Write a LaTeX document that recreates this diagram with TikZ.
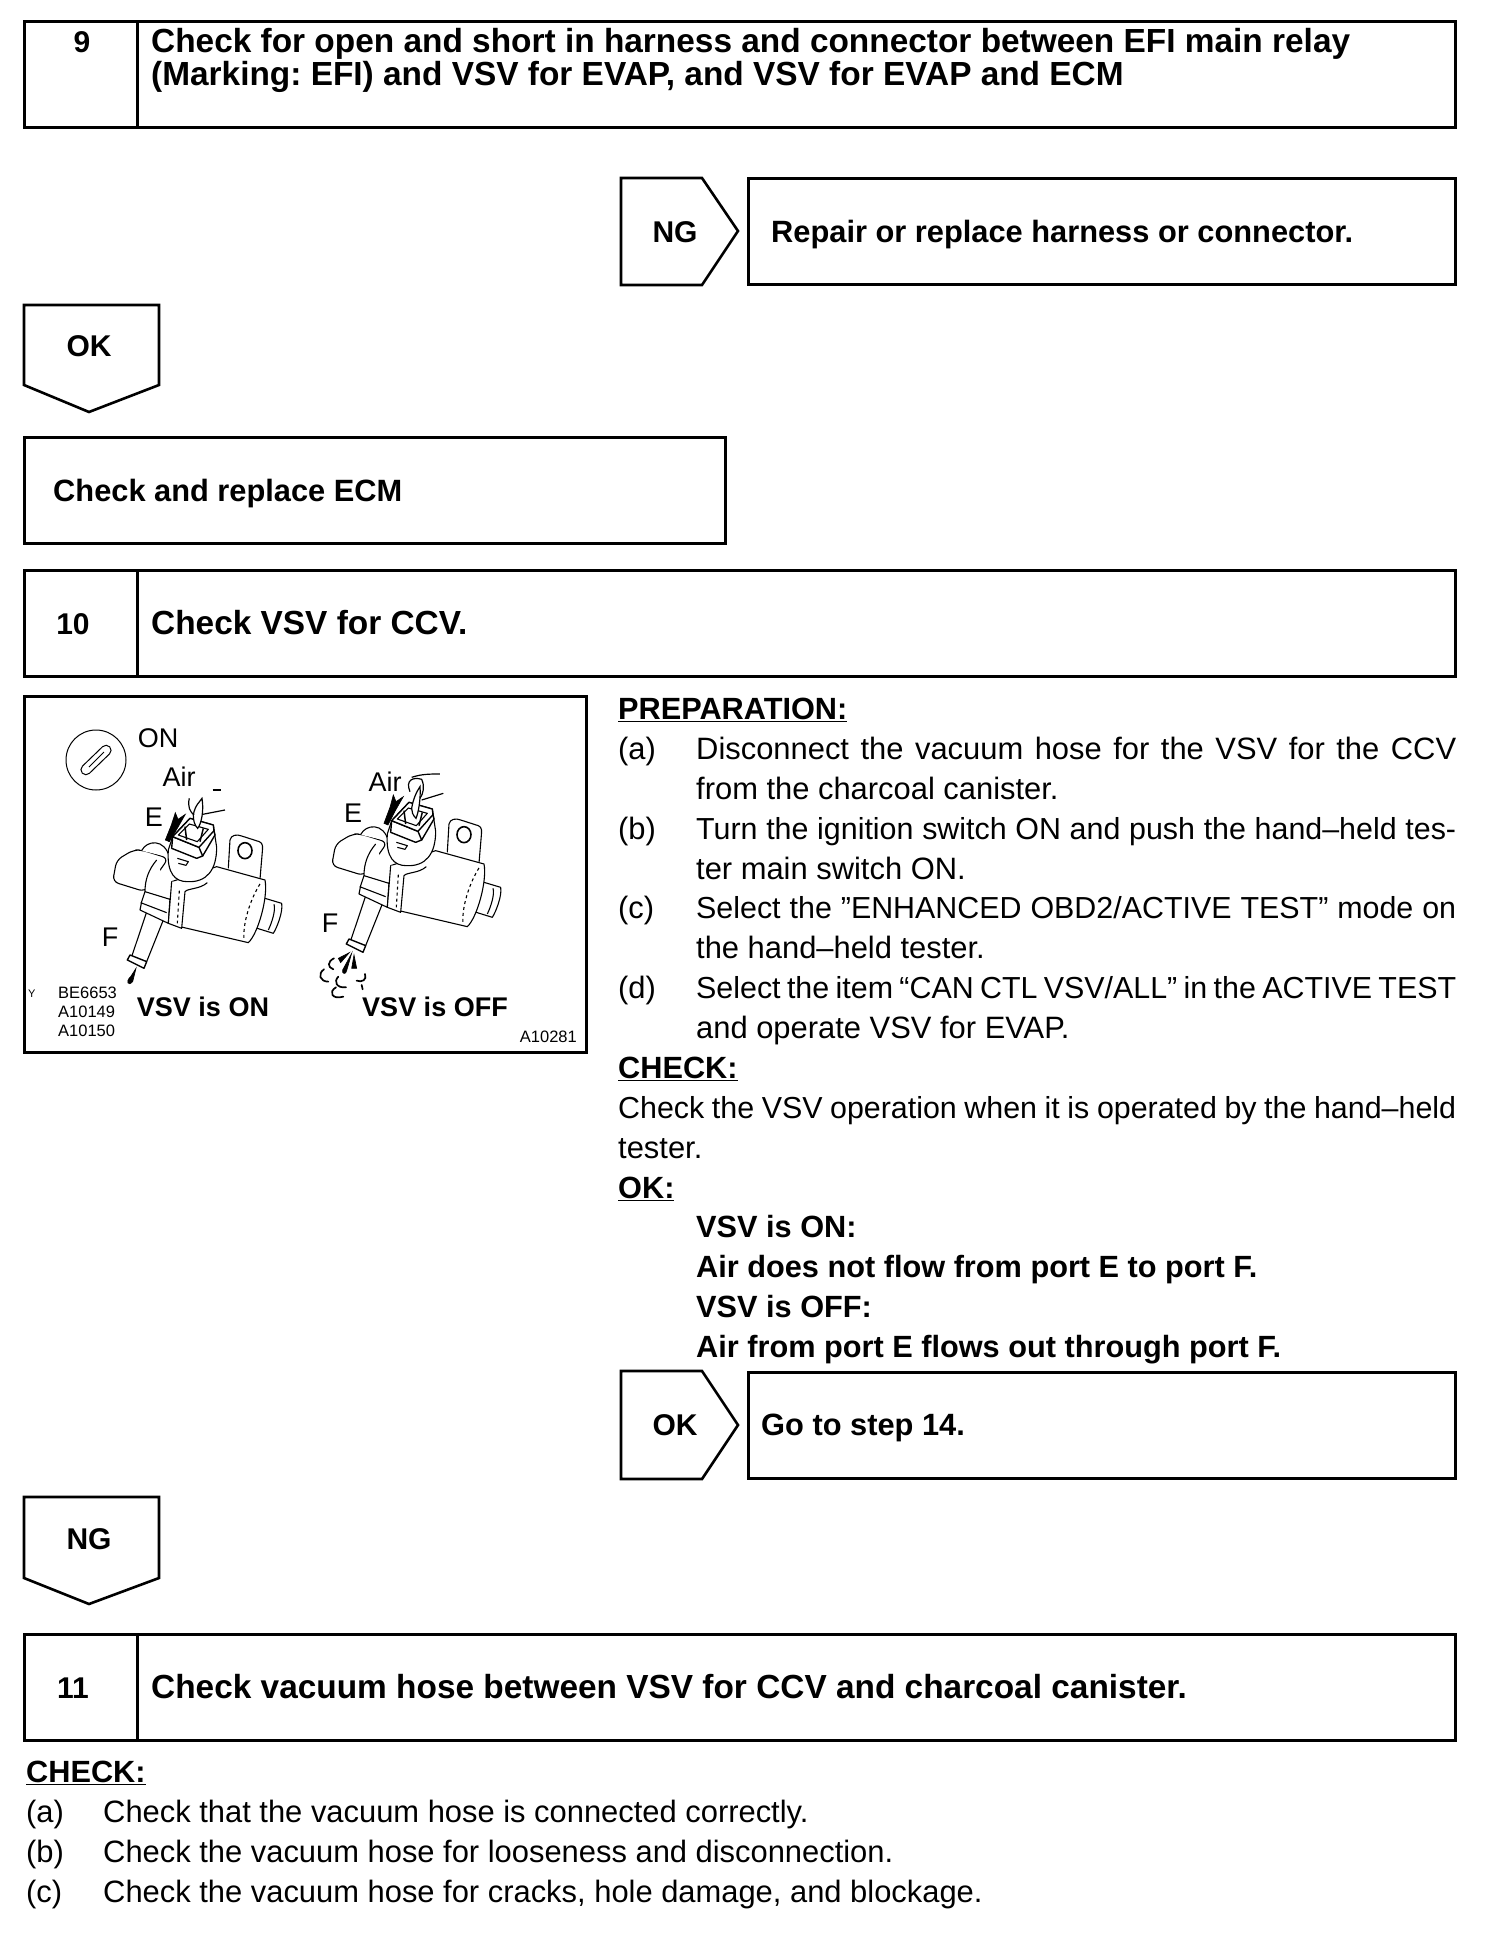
\documentclass[tikz,border=0pt]{standalone}
\usepackage{fontspec}
\setmainfont{Liberation Sans}
\usetikzlibrary{positioning}
\newcommand{\jline}[2]{\makebox[#1pt][s]{#2}}
\tikzset{
  vsvbody/.pic={
    \begin{scope}[x=0.3333pt,y=-0.3333pt,line width=1.1pt,line join=round]
      % bracket
      \draw[fill=white] (385,325) -- (390,240) .. controls (393,225) and (410,222) .. (425,228)
        -- (478,245) .. controls (490,250) and (488,262) .. (487,275) -- (480,358);
      \draw[line width=1.6pt] (435,272) ellipse (21 and 24);
      % stub and cylinder
      \draw[fill=white] (495,415) -- (545,430) .. controls (550,455) and (530,505) .. (520,520) -- (465,503);
      \draw[fill=white] (350,320) -- (495,360) .. controls (505,410) and (475,520) .. (445,548)
        -- (240,500) -- (215,365) -- cycle;
      \draw (522,433) .. controls (528,450) and (515,490) .. (505,510);
      \draw[dashed] (480,372) .. controls (450,420) and (428,490) .. (432,540);
      % left cap and collar
      \draw[fill=white,rounded corners=6pt] (125,270) -- (100,270) -- (50,300) -- (38,365) -- (135,395) -- (205,295) -- cycle;
      \draw[fill=white] (125,272) .. controls (140,240) and (195,235) .. (208,292);
      % tube and nozzle
      \draw[fill=white] (142,450) -- (95,590) -- (140,605) -- (192,475);
      \draw[fill=white,line width=1.4pt] (90,585) -- (140,605) -- (132,625) -- (82,600) -- cycle;
      % strap
      \draw[fill=white] (170,300) .. controls (145,330) and (135,360) .. (135,395) -- (125,425)
        -- (120,450) -- (205,490) -- (210,415);
      \draw (135,395) -- (210,418);
      \draw (122,428) -- (200,458);
      % band
      \draw[fill=white] (322,368) .. controls (300,388) and (262,385) .. (255,395)
        -- (245,505) -- (205,490) -- (215,365);
      \draw[dashed] (238,392) -- (232,490);
      % housing
      \draw[fill=white] (205,270) .. controls (200,340) and (225,365) .. (262,365)
        .. controls (320,368) and (350,330) .. (350,262) -- (340,195) -- (270,175) -- (218,230) -- cycle;
      \draw[fill=white,line width=1.4pt] (218,230) -- (215,265) -- (290,295) -- (308,288) -- (297,262) -- cycle;
      \draw[fill=white,line width=1.4pt] (218,230) -- (270,175) -- (340,195) -- (342,212) -- (297,262) -- cycle;
      \draw[line width=1.4pt] (308,288) -- (345,225) -- (342,212);
      \draw (232,295) -- (265,305) -- (258,316) -- (235,310);
      \draw (235,225) -- (268,192) -- (325,208) -- (292,245) -- cycle;
      \draw[line width=1.5pt] (255,200) -- (260,240) (310,205) -- (300,245);
    \end{scope}
  },
  keyslot/.pic={
    \draw[line width=1pt] (0,0) circle (30);
    \draw[line width=1pt,rounded corners=5pt,rotate=44] (-19,-5) rectangle (19,5);
    \draw[line width=.8pt] (-7,7) -- (8,-8);
  },
}
\begin{document}
\frenchspacing
\begin{tikzpicture}[
  x=1pt,y=-1pt,
  box/.style={draw, line width=3pt, inner sep=0pt},
  flag/.style={draw, line width=2.6pt, line join=miter},
  ttl/.style={anchor=base west, inner sep=0pt, yshift=1pt, font=\fontsize{33.4}{33}\selectfont\bfseries},
  sml/.style={ttl, font=\fontsize{30.8}{33}\selectfont\bfseries},
  tag/.style={anchor=base, inner sep=0pt, yshift=1pt, font=\fontsize{30}{33}\selectfont\bfseries},
  txt/.style={anchor=base west, inner sep=0pt, font=\fontsize{30.9}{33}\selectfont},
  tgt/.style={txt, font=\fontsize{30.4}{33}\selectfont},
  bld/.style={txt, font=\fontsize{30.7}{33}\selectfont\bfseries},
  pict/.style={anchor=center, inner sep=0pt, font=\fontsize{27}{30}\selectfont},
  vcap/.style={anchor=center, inner sep=0pt, font=\fontsize{27}{30}\selectfont\bfseries},
  code/.style={anchor=base west, inner sep=0pt, font=\fontsize{16.5}{18}\selectfont},
  drop/.style={fill=black, draw=black, line width=.6pt},
  puff/.style={line width=1.7pt, line cap=round},
]
\useasboundingbox (0,0) rectangle (1504,1938);

% ===== step 9 =====
\node[box,minimum width=113pt,minimum height=106pt] (no9) at (80.5,74) {};
\node[box,minimum width=1318pt,minimum height=106pt,right=-3pt of no9] (ti9) {};
\node[tag] (n9) at (82,53) {9};
\node[ttl] (t9a) at (151,53) {Check for open and short in harness and connector between EFI main relay};
\node[ttl] (t9b) at (151,86) {(Marking: EFI) and VSV for EVAP, and VSV for EVAP and ECM};

% NG branch
\draw[flag] (621,178) -- (702,178) -- (738,231) -- (702,285) -- (621,285) -- cycle;
\node[tag] (ng9) at (675,243) {NG};
\node[box,minimum width=707pt,minimum height=106pt] (rep9) at (1101.5,231.5) {};
\node[sml] (rept) at (771,243) {Repair or replace harness or connector.};

% OK branch
\draw[flag] (24,305) -- (159,305) -- (159,385) -- (89,412) -- (24,385) -- cycle;
\node[tag] (ok9) at (89,357) {OK};
\node[box,minimum width=701pt,minimum height=106pt] (ecm) at (374.5,490) {};
\node[sml] (ecmt) at (53,502) {Check and replace ECM};

% ===== step 10 =====
\node[box,minimum width=113pt,minimum height=106pt] (no10) at (80.5,623.5) {};
\node[box,minimum width=1318pt,minimum height=106pt,right=-3pt of no10] (ti10) {};
\node[tag] (n10) at (73,635) {10};
\node[ttl] (t10) at (151,635) {Check VSV for CCV.};

% ===== illustration =====
\node[box,minimum width=562pt,minimum height=356pt] (fig) at (305,874) {};
\pic at (96,760) {keyslot};
\node[pict] (on) at (158,738) {ON};
\node[pict] (air1) at (179,777) {Air};
\node[pict] (e1) at (154,817) {E};
\node[pict] (f1) at (110,937) {F};
\node[pict] (air2) at (385,782) {Air};
\node[pict] (e2) at (353,813) {E};
\node[pict] (f2) at (330,923) {F};

\pic at (100,760) {vsvbody};
\pic at (319,744) {vsvbody};

% left valve, hose and flow
\begin{scope}[shift={(100,760)},x=0.3333pt,y=-0.3333pt]
  \draw[fill=white,line width=1.2pt] (280,165) .. controls (285,135) and (300,125) .. (306,115)
    .. controls (312,150) and (305,190) .. (293,205) .. controls (283,195) and (280,180) .. (280,165) -- cycle;
  \draw[line width=1.2pt] (268,115) .. controls (262,140) and (270,155) .. (282,165);
  \draw[line width=1.2pt] (308,163) -- (375,150);
  \draw[line width=1.2pt] (338,90) -- (362,90);
  \draw[drop] (226,158) -- (234,178) -- (256,163) -- (232,205) -- (208,245) -- (196,240) -- (214,195) -- cycle;
  \draw[drop] (108,625) -- (92,650) .. controls (75,665) and (85,680) .. (98,665) -- cycle;
\end{scope}

% right valve, hose and flow
\begin{scope}[shift={(310,750)},x=0.3333pt,y=-0.3333pt]
  \draw[fill=white,line width=1.2pt] (305,175) .. controls (310,145) and (320,125) .. (330,110)
    .. controls (333,145) and (325,190) .. (318,205) .. controls (308,195) and (305,185) .. (305,175) -- cycle;
  \draw[line width=1.2pt] (300,125) .. controls (285,90) and (310,80) .. (335,88) .. controls (345,110) and (340,130) .. (330,145);
  \draw[line width=1.2pt] (305,82) .. controls (335,72) and (360,72) .. (390,72);
  \draw[line width=1.2pt] (335,150) -- (400,130);
  \draw[drop] (250,135) -- (258,155) -- (280,140) -- (256,182) -- (234,225) -- (222,220) -- (240,172) -- cycle;
  \draw[drop] (118,608) -- (85,625) -- (92,638) -- cycle;
  \draw[drop] (125,610) -- (98,660) .. controls (95,672) and (108,675) .. (110,662) -- cycle;
  \draw[drop] (132,615) -- (125,655) -- (140,655) -- cycle;
  \draw[puff] (72,625) .. controls (52,635) and (52,652) .. (70,658);
  \draw[puff] (42,658) .. controls (22,672) and (30,695) .. (55,695);
  \draw[puff] (85,680) .. controls (70,695) and (80,715) .. (108,712);
  \draw[puff] (78,712) .. controls (55,725) and (65,750) .. (100,740);
  \draw[puff] (165,672) .. controls (172,690) and (155,698) .. (140,692);
  \draw[puff] (155,705) -- (158,718);
\end{scope}

\node[anchor=base west,inner sep=0pt,font=\fontsize{11}{12}\selectfont] (ylab) at (28,997) {Y};
\node[code] (cd1) at (58,998) {BE6653};
\node[code] (cd2) at (58,1017) {A10149};
\node[code] (cd3) at (58,1036) {A10150};
\node[code,anchor=base east] (cd4) at (577,1042) {A10281};
\node[vcap] (on1) at (203,1007) {VSV is ON};
\node[vcap] (off1) at (435,1007) {VSV is OFF};

% ===== procedure text =====
\node[bld] (prep) at (618,719) {\underline{PREPARATION:}};
\node[txt] (pa) at (618,759) {(a)};
\node[txt] (pa1) at (696,759) {\jline{760}{Disconnect the vacuum hose for the VSV for the CCV}};
\node[txt] (pa2) at (696,799) {from the charcoal canister.};
\node[txt] (pb) at (618,839) {(b)};
\node[tgt] (pb1) at (696,839) {\jline{760}{Turn the ignition switch ON and push the hand–held tes-}};
\node[txt] (pb2) at (696,879) {ter main switch ON.};
\node[txt] (pc) at (618,918) {(c)};
\node[tgt] (pc1) at (696,918) {\jline{760}{Select the ”ENHANCED OBD2/ACTIVE TEST” mode on}};
\node[txt] (pc2) at (696,958) {the hand–held tester.};
\node[txt] (pd) at (618,998) {(d)};
\node[tgt] (pd1) at (696,998) {\jline{760}{Select the item “CAN CTL VSV/ALL” in the ACTIVE TEST}};
\node[txt] (pd2) at (696,1038) {and operate VSV for EVAP.};
\node[bld] (chk) at (618,1078) {\underline{CHECK:}};
\node[tgt] (ck1) at (618,1118) {\jline{838}{Check the VSV operation when it is operated by the hand–held}};
\node[txt] (ck2) at (618,1158) {tester.};
\node[bld] (okh) at (618,1198) {\underline{OK:}};
\node[bld] (ok1) at (696,1237) {VSV is ON:};
\node[bld] (ok2) at (696,1277) {Air does not flow from port E to port F.};
\node[bld] (ok3) at (696,1317) {VSV is OFF:};
\node[bld] (ok4) at (696,1357) {Air from port E flows out through port F.};

% OK branch
\draw[flag] (621,1371) -- (702,1371) -- (738,1425) -- (702,1479) -- (621,1479) -- cycle;
\node[tag] (ok10) at (675,1436) {OK};
\node[box,minimum width=707pt,minimum height=106pt] (go14) at (1101.5,1425) {};
\node[sml] (got) at (761,1436) {Go to step 14.};

% NG branch
\draw[flag] (24,1497) -- (159,1497) -- (159,1578) -- (89,1604) -- (24,1578) -- cycle;
\node[tag] (ng10) at (89,1550) {NG};

% ===== step 11 =====
\node[box,minimum width=113pt,minimum height=106pt] (no11) at (80.5,1687.5) {};
\node[box,minimum width=1318pt,minimum height=106pt,right=-3pt of no11] (ti11) {};
\node[tag] (n11) at (73,1699) {11};
\node[ttl] (t11) at (151,1699) {Check vacuum hose between VSV for CCV and charcoal canister.};

\node[bld] (chk2) at (26,1782) {\underline{CHECK:}};
\node[txt] (ca) at (26,1822) {(a)};
\node[txt] (ca1) at (103,1822) {Check that the vacuum hose is connected correctly.};
\node[txt] (cb) at (26,1862) {(b)};
\node[txt] (cb1) at (103,1862) {Check the vacuum hose for looseness and disconnection.};
\node[txt] (cc) at (26,1902) {(c)};
\node[txt] (cc1) at (103,1902) {Check the vacuum hose for cracks, hole damage, and blockage.};
\end{tikzpicture}
\end{document}
